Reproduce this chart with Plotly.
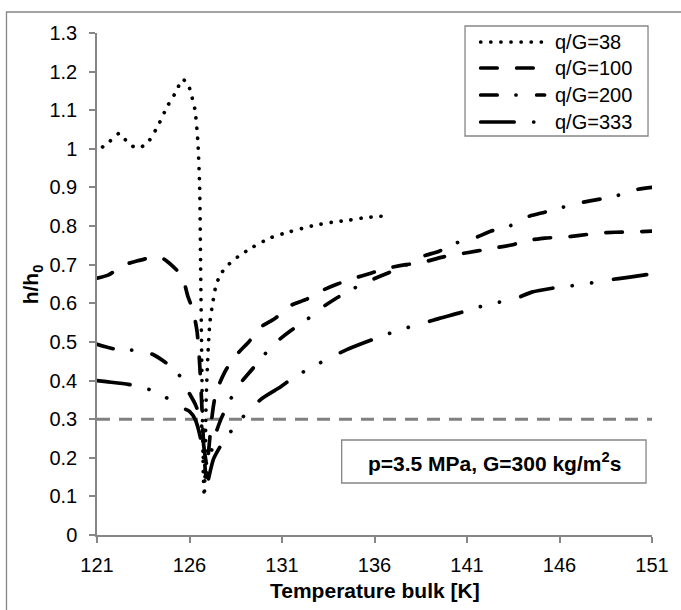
import plotly.graph_objects as go

# Bulk temperature [K] and normalised heat transfer coefficient h/h0 per q/G ratio
t_38 = [121.3, 121.7, 122.2, 122.6, 123.0, 123.4, 123.8, 124.3, 124.8, 125.3, 125.6, 125.9,
        126.1, 126.3, 126.45, 126.55, 126.6, 126.65, 126.7, 126.75, 126.8, 126.85, 126.9,
        127.0, 127.1, 127.25, 127.45, 127.75, 128.1, 128.6, 129.4, 130.4, 131.4, 132.6,
        133.7, 134.6, 135.5, 136.5]
h_38 = [1.005, 1.02, 1.04, 1.02, 1.005, 1.005, 1.02, 1.06, 1.11, 1.15, 1.18, 1.17,
        1.14, 1.10, 1.02, 0.90, 0.70, 0.50, 0.30, 0.15, 0.10, 0.20, 0.35,
        0.47, 0.55, 0.60, 0.65, 0.68, 0.70, 0.72, 0.745, 0.77, 0.785, 0.80,
        0.81, 0.815, 0.822, 0.826]

t_100 = [121.0, 121.6, 122.5, 123.2, 124.1, 124.6, 125.0, 125.6, 125.9, 126.2, 126.4, 126.5,
         126.6, 126.7, 126.8, 126.9, 127.0, 127.2, 127.35, 127.6, 128.0, 128.6, 129.2, 129.9,
         130.6, 131.5, 132.3, 133.2, 134.0, 134.9, 135.8, 136.6, 137.7, 138.6, 139.6, 140.5,
         141.5, 142.4, 143.4, 144.2, 145.2, 146.2, 147.1, 148.1, 149.0, 150.0, 151.0]
h_100 = [0.665, 0.673, 0.70, 0.71, 0.72, 0.715, 0.70, 0.67, 0.62, 0.58, 0.53, 0.48,
         0.40, 0.30, 0.20, 0.15, 0.20, 0.30, 0.35, 0.39, 0.43, 0.47, 0.50, 0.54,
         0.56, 0.595, 0.61, 0.634, 0.65, 0.665, 0.678, 0.69, 0.70, 0.706, 0.719, 0.727,
         0.735, 0.743, 0.751, 0.762, 0.769, 0.771, 0.776, 0.782, 0.784, 0.785, 0.787]

t_200 = [121.0, 122.1, 123.2, 124.0, 124.9, 125.6, 126.0, 126.3, 126.6, 126.8, 126.95, 127.1,
         127.4, 127.7, 128.2, 128.7, 129.4, 130.1, 130.7, 131.5, 132.4, 133.2, 134.0, 134.9,
         135.8, 136.8, 137.7, 138.5, 139.5, 140.4, 141.4, 142.3, 143.3, 144.2, 145.2, 146.2,
         147.1, 148.2, 149.2, 150.1, 151.0]
h_200 = [0.494, 0.48, 0.478, 0.468, 0.44, 0.405, 0.366, 0.34, 0.30, 0.22, 0.18, 0.20,
         0.26, 0.30, 0.35, 0.39, 0.43, 0.47, 0.50, 0.53, 0.56, 0.59, 0.615, 0.639,
         0.66, 0.68, 0.699, 0.72, 0.735, 0.756, 0.769, 0.787, 0.80, 0.823, 0.836, 0.849,
         0.86, 0.87, 0.88, 0.894, 0.90]

t_333 = [121.0, 121.5, 122.7, 123.7, 124.6, 125.5, 126.0, 126.3, 126.6, 126.8, 126.9, 127.0,
         127.3, 127.8, 128.4, 129.1, 129.9, 130.8, 131.7, 132.6, 133.5, 134.5, 135.5, 136.4,
         137.4, 138.4, 139.5, 140.5, 141.4, 142.4, 143.5, 144.5, 145.6, 146.6, 147.6, 148.6,
         149.8, 150.8]
h_333 = [0.40, 0.397, 0.39, 0.379, 0.36, 0.332, 0.32, 0.30, 0.25, 0.18, 0.12, 0.14,
         0.197, 0.24, 0.278, 0.317, 0.353, 0.38, 0.41, 0.434, 0.457, 0.48, 0.499, 0.515,
         0.532, 0.545, 0.561, 0.574, 0.587, 0.60, 0.61, 0.629, 0.639, 0.645, 0.652, 0.66,
         0.668, 0.675]

# Reference level h/h0 = 0.3
t_ref = [121, 151]
h_ref = [0.3, 0.3]

series_names = ["q/G=38", "q/G=100", "q/G=200", "q/G=333"]
series_t = [t_38, t_100, t_200, t_333]
series_h = [h_38, h_100, h_200, h_333]

x_ticks = [121, 126, 131, 136, 141, 146, 151]
y_ticks = [0, 0.1, 0.2, 0.3, 0.4, 0.5, 0.6, 0.7, 0.8, 0.9, 1, 1.1, 1.2, 1.3]
y_tick_text = ["0", "0.1", "0.2", "0.3", "0.4", "0.5", "0.6", "0.7", "0.8", "0.9", "1", "1.1", "1.2", "1.3"]

FONT = "Liberation Sans, Arial, sans-serif"
BLACK = "#000000"
GREY = "#868686"
LW = 3.7

# dash patterns (round caps are applied after drawing)
dashes = [
    "0.1px,10px",
    "16.5px,19.5px",
    "16.5px,18.75px,0.1px,20.65px",
    "33.5px,19.5px,0.1px,19.5px,0.1px,22px",
]

# plot area in pixels
W, H = 681, 610
L, R, T, B = 97, 26, 33, 75
PW, PH = W - L - R, H - T - B


def px(x):
    return (x - L) / PW


def py(y):
    return (H - B - y) / PH


fig = go.Figure()

fig.add_trace(go.Scatter(x=t_ref, y=h_ref, mode="lines", showlegend=False,
                         line=dict(color="#808080", width=3, dash="13px,9px"),
                         hoverinfo="skip"))

for name, t, h, d in zip(series_names, series_t, series_h, dashes):
    fig.add_trace(go.Scatter(x=t, y=h, mode="lines", name=name, showlegend=False,
                             line=dict(color=BLACK, width=LW, dash=d, shape="spline",
                                       smoothing=0.6)))

shapes = []
annotations = []

# outer chart frame
shapes.append(dict(type="rect", xref="paper", yref="paper",
                   x0=px(6), x1=px(700), y0=py(12), y1=py(640),
                   line=dict(color=GREY, width=1.3), fillcolor="rgba(0,0,0,0)", layer="below"))

# legend box
shapes.append(dict(type="rect", xref="paper", yref="paper",
                   x0=px(467), x1=px(651), y0=py(26), y1=py(136),
                   line=dict(color=GREY, width=1.3), fillcolor="white"))
legend_rows = [42, 68, 95, 122]
for name, d, yy in zip(series_names, dashes, legend_rows):
    shapes.append(dict(type="line", xref="paper", yref="paper",
                       x0=px(482.75), x1=px(547), y0=py(yy), y1=py(yy),
                       line=dict(color=BLACK, width=LW, dash=d)))
    annotations.append(dict(xref="paper", yref="paper", x=px(555), y=py(yy),
                            xanchor="left", yanchor="middle", showarrow=False,
                            text=name, font=dict(family=FONT, size=20, color=BLACK)))

# condition box
shapes.append(dict(type="rect", xref="paper", yref="paper",
                   x0=px(343), x1=px(649), y0=py(440), y1=py(483),
                   line=dict(color=GREY, width=1.3), fillcolor="white"))
annotations.append(dict(xref="paper", yref="paper", x=px(497), y=py(462),
                        xanchor="center", yanchor="middle", showarrow=False,
                        text="<b>p=3.5 MPa, G=300 kg/m<sup>2</sup>s</b>",
                        font=dict(family=FONT, size=21, color=BLACK)))

# axis titles
annotations.append(dict(xref="paper", yref="paper", x=0.5, y=py(590),
                        xanchor="center", yanchor="middle", showarrow=False,
                        text="<b>Temperature bulk [K]</b>",
                        font=dict(family=FONT, size=21, color=BLACK)))
annotations.append(dict(xref="paper", yref="paper", x=px(32), y=0.5,
                        xanchor="center", yanchor="middle", showarrow=False, textangle=-90,
                        text="<b>h/h<sub>0</sub></b>",
                        font=dict(family=FONT, size=21, color=BLACK)))

fig.update_layout(
    width=W, height=H,
    margin=dict(l=L, r=R, t=T, b=B, pad=0),
    paper_bgcolor="white", plot_bgcolor="white",
    font=dict(family=FONT, size=20, color=BLACK),
    shapes=shapes, annotations=annotations,
    showlegend=False,
)
fig.update_xaxes(range=[121, 151], tickvals=x_ticks, ticktext=[str(v) for v in x_ticks],
                 showgrid=False, zeroline=False, showline=True, linecolor=GREY, linewidth=1.5,
                 ticks="outside", ticklen=6, tickcolor=GREY, tickwidth=1.5,
                 tickfont=dict(family=FONT, size=20, color=BLACK), ticklabelstandoff=5)
fig.update_yaxes(range=[0, 1.3], tickvals=y_ticks, ticktext=y_tick_text,
                 showgrid=False, zeroline=False, showline=True, linecolor=GREY, linewidth=1.5,
                 ticks="outside", ticklen=6, tickcolor=GREY, tickwidth=1.5,
                 tickfont=dict(family=FONT, size=20, color=BLACK), ticklabelstandoff=8)

post = """
var gd = document.getElementById('{plot_id}');
function roundCaps() {
  gd.querySelectorAll('path').forEach(function (p) {
    var s = (p.style.stroke || p.getAttribute('stroke') || '').replace(/\\s/g, '');
    if (s === 'rgb(0,0,0)' || s === '#000000' || s === '#000') {
      p.style.strokeLinecap = 'round';
    }
  });
}
roundCaps();
gd.on('plotly_afterplot', roundCaps);
"""

fig.write_html("out.html", post_script=post)
